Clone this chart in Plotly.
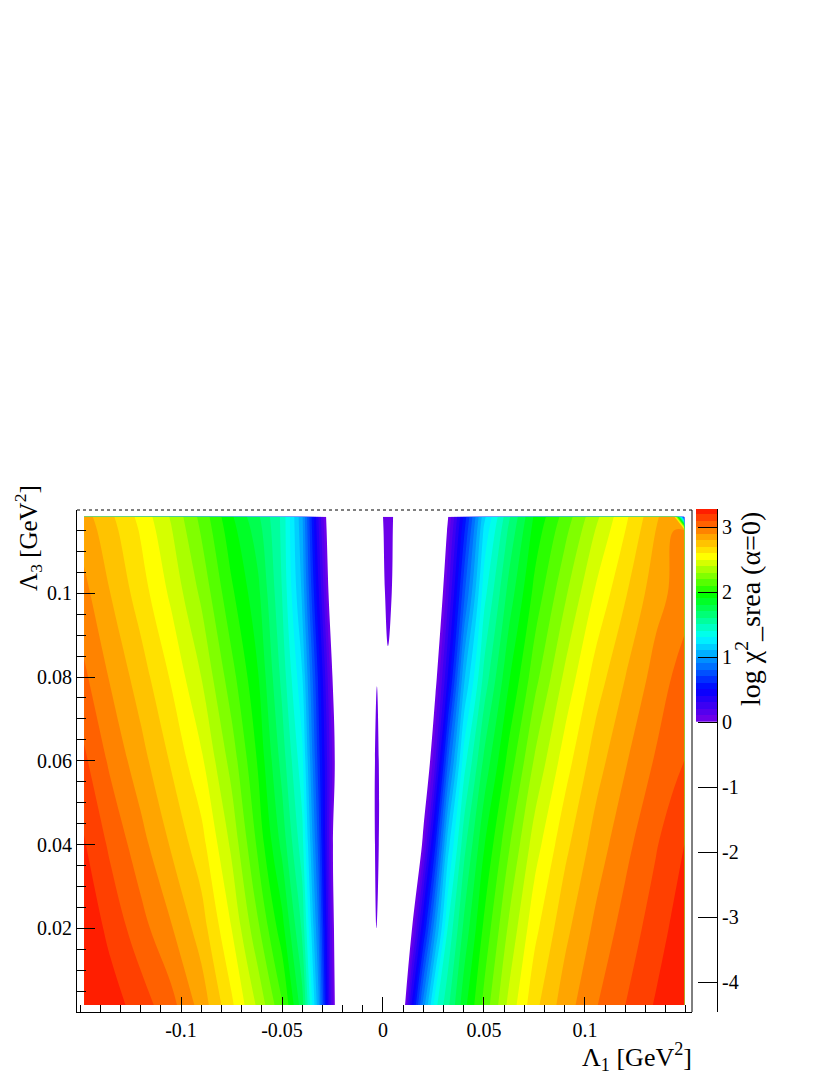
import numpy as np
import plotly.graph_objects as go

# grid of the scan (GeV^2)
lam1 = [-0.148, -0.135, -0.12, -0.105, -0.09, -0.075, -0.062, -0.05, -0.04, -0.032,
        -0.026, -0.02, -0.01, -0.003, 0.0025, 0.008, 0.014, 0.02, 0.026, 0.032,
        0.04, 0.05, 0.062, 0.075, 0.09, 0.105, 0.12, 0.135, 0.144, 0.1492]
lam3 = [0.0017, 0.02, 0.04, 0.06, 0.08, 0.1, 0.115, 0.1183]

# log chi2 values, one list per lam3 row
z_r0 = [3.33, 3.25, 3.15, 3.035, 2.86, 2.62, 2.38, 2.12, 1.74, 1.03, 0.22, -0.39, -0.8, -0.9, -0.8,
        -0.37, 0.39, 0.95, 1.37, 1.57, 1.86, 2.13, 2.42, 2.67, 2.85, 2.99, 3.10, 3.21, 3.28, 3.32]
z_r1 = [3.28, 3.17, 3.04, 2.91, 2.75, 2.50, 2.22, 1.94, 1.58, 0.90, 0.17, -0.42, -0.3, 0.01, -0.25,
        -0.64, -0.04, 0.5, 0.99, 1.40, 1.72, 2.02, 2.31, 2.57, 2.77, 2.92, 3.04, 3.15, 3.22, 3.26]
z_r2 = [3.21, 3.08, 2.94, 2.79, 2.64, 2.38, 2.08, 1.77, 1.44, 0.77, 0.12, -0.46, -0.25, 0.04, -0.2,
        -0.9, -0.47, 0.06, 0.6, 1.15, 1.56, 1.89, 2.18, 2.45, 2.67, 2.84, 2.97, 3.09, 3.16, 3.2]
z_r3 = [3.12, 2.98, 2.84, 2.69, 2.52, 2.26, 1.99, 1.66, 1.33, 0.66, 0.16, -0.29, -0.25, 0.04, -0.2,
        -1.0, -0.8, -0.25, 0.2, 0.78, 1.35, 1.72, 2.03, 2.31, 2.55, 2.75, 2.89, 3.01, 3.07, 3.1]
z_r4 = [3.02, 2.89, 2.75, 2.59, 2.40, 2.14, 1.91, 1.57, 1.21, 0.58, 0.083, -0.42, -1.0, -0.005, -0.035,
        -1.0, -0.9, -0.5, -0.05, 0.40, 1.07, 1.53, 1.88, 2.16, 2.42, 2.64, 2.80, 2.94, 3.01, 3.05]
z_r5 = [2.93, 2.80, 2.65, 2.48, 2.28, 2.02, 1.83, 1.50, 1.08, 0.42, -0.08, -0.6, -1.0, -0.16, 0.06,
        -0.12, -0.9, -0.7, -0.25, 0.16, 0.76, 1.36, 1.73, 2.03, 2.28, 2.51, 2.69, 2.86, 2.92, 2.95]
z_r6 = [2.86, 2.74, 2.59, 2.41, 2.19, 1.94, 1.75, 1.48, 1.03, 0.32, -0.15, -0.68, -1.0, -0.11, 0.075,
        -0.1, -0.98, -0.78, -0.39, 0.02, 0.57, 1.22, 1.61, 1.94, 2.17, 2.40, 2.60, 2.80, 2.90, 2.93]
z_r7 = [2.84, 2.72, 2.57, 2.39, 2.17, 1.915, 1.72, 1.48, 1.02, 0.30, -0.17, -0.7, -1.0, -0.096, 0.08,
        -0.096, -1.0, -0.8, -0.42, -0.02, 0.52, 1.17, 1.575, 1.915, 2.14, 2.37, 2.58, 2.78, 2.89, 0.5]
logchi2 = [z_r0, z_r1, z_r2, z_r3, z_r4, z_r5, z_r6, z_r7]

# contour levels and palette (root-like violet -> red)
lev_start, lev_end, lev_size = 0.0, 3.2, 0.1
pal_z = [0.0, 0.5, 1.3, 1.95, 2.55, 2.85, 3.25]
pal_c = ['rgb(120,0,230)', 'rgb(0,0,255)', 'rgb(0,255,255)', 'rgb(0,255,0)',
         'rgb(255,255,0)', 'rgb(255,165,0)', 'rgb(255,30,0)']

x_tickvals = [-0.1, -0.05, 0, 0.05, 0.1]
x_ticktext = ['-0.1', '-0.05', '0', '0.05', '0.1']
y_tickvals = [0.02, 0.04, 0.06, 0.08, 0.1]
y_ticktext = ['0.02', '0.04', '0.06', '0.08', '0.1']
z_tickvals = [-4, -3, -2, -1, 0, 1, 2, 3]
z_ticktext = ['-4', '-3', '-2', '-1', '0', '1', '2', '3']

# page body has an 8px margin, so the figure is shrunk and shifted
OFF = 8
W, H = 830 - OFF, 1075 - OFF
FONT = 'Liberation Serif, serif'

# colour map domain as plotly uses it for filled contours
cmin = lev_start - lev_size / 2
cmax = lev_end + lev_size / 2
def s(z):
    return (z - cmin) / (cmax - cmin)

cscale = [[0.0, 'white'], [0.01, 'white']]
for zz, cc in zip(pal_z, pal_c):
    cscale.append([s(zz), cc])

def px(x):
    return (x - OFF) / W

def py(y):
    return 1 - (y - OFF) / H

fig = go.Figure()

fig.add_trace(go.Contour(
    x=lam1, y=lam3, z=logchi2,
    colorscale=cscale,
    contours=dict(start=lev_start, end=lev_end, size=lev_size,
                  coloring='fill', showlines=False),
    line=dict(width=0, smoothing=1.2),
    showscale=False, hoverinfo='skip',
))

# palette bar drawn as a one-column heatmap
mids = np.arange(lev_start, lev_end + lev_size / 2, lev_size) + lev_size / 2
fig.add_trace(go.Heatmap(
    x=[0], y=mids, z=[[m] for m in mids],
    colorscale=cscale, zmin=cmin, zmax=cmax,
    showscale=False, hoverinfo='skip',
    xaxis='x2', yaxis='y2',
))

tickfont = dict(family=FONT, size=20, color='black')
fig.update_layout(
    width=W, height=H,
    margin=dict(l=0, r=0, t=0, b=0),
    paper_bgcolor='white', plot_bgcolor='white',
    font=dict(family=FONT, color='black'),
    showlegend=False,
    xaxis=dict(domain=[px(77), px(692)], range=[-0.1515, 0.153], anchor='y',
               showline=True, linecolor='black', linewidth=1,
               showgrid=False, zeroline=False,
               tickmode='array', tickvals=x_tickvals, ticktext=x_ticktext,
               ticks='inside', ticklen=15, tickcolor='black', tickwidth=1,
               minor=dict(ticks='inside', ticklen=7, tick0=0, dtick=0.01,
                          tickcolor='black', tickwidth=1),
               tickfont=tickfont),
    yaxis=dict(domain=[py(1012), py(510)], range=[0, 0.1199], anchor='x',
               showline=True, linecolor='black', linewidth=1,
               showgrid=False, zeroline=False,
               tickmode='array', tickvals=y_tickvals, ticktext=y_ticktext,
               ticks='inside', ticklen=18, tickcolor='black', tickwidth=1,
               minor=dict(ticks='inside', ticklen=9, tick0=0, dtick=0.005,
                          tickcolor='black', tickwidth=1),
               tickfont=tickfont),
    xaxis2=dict(domain=[px(696), px(717)], range=[-0.5, 0.5], anchor='y2',
                visible=False),
    yaxis2=dict(domain=[py(1012), py(509)], range=[-4.46, 3.28], anchor='x2',
                side='right', showline=True, linecolor='black', linewidth=1,
                showgrid=False, zeroline=False,
                tickmode='array', tickvals=z_tickvals, ticktext=z_ticktext,
                ticks='inside', ticklen=19, tickcolor='black', tickwidth=1,
                tickfont=tickfont),
)

# frame: right solid, top dotted
fig.add_shape(type='line', xref='x domain', yref='y domain', x0=1, x1=1, y0=0, y1=1,
              line=dict(color='black', width=1))
fig.add_shape(type='line', xref='x domain', yref='y domain', x0=0, x1=1, y0=1, y1=1,
              line=dict(color='black', width=1, dash='dot'))

titlefont = dict(family=FONT, size=26, color='black')
fig.add_annotation(text='Λ<sub>1</sub> [GeV<sup>2</sup>]', xref='paper', yref='paper',
                   x=px(694), y=py(1057), xanchor='right', yanchor='middle',
                   showarrow=False, font=titlefont)
fig.add_annotation(text='Λ<sub>3</sub> [GeV<sup>2</sup>]', xref='paper', yref='paper',
                   x=px(8), y=py(483), xanchor='left', yanchor='top', textangle=-90,
                   showarrow=False, font=dict(family=FONT, size=25, color='black'))
fig.add_annotation(text='log χ<sup>2</sup>_srea (α=0)', xref='paper', yref='paper',
                   x=px(748), y=py(510), xanchor='center', yanchor='top', textangle=-90,
                   showarrow=False, font=dict(family=FONT, size=28, color='black'))

fig.write_html('out.html')
